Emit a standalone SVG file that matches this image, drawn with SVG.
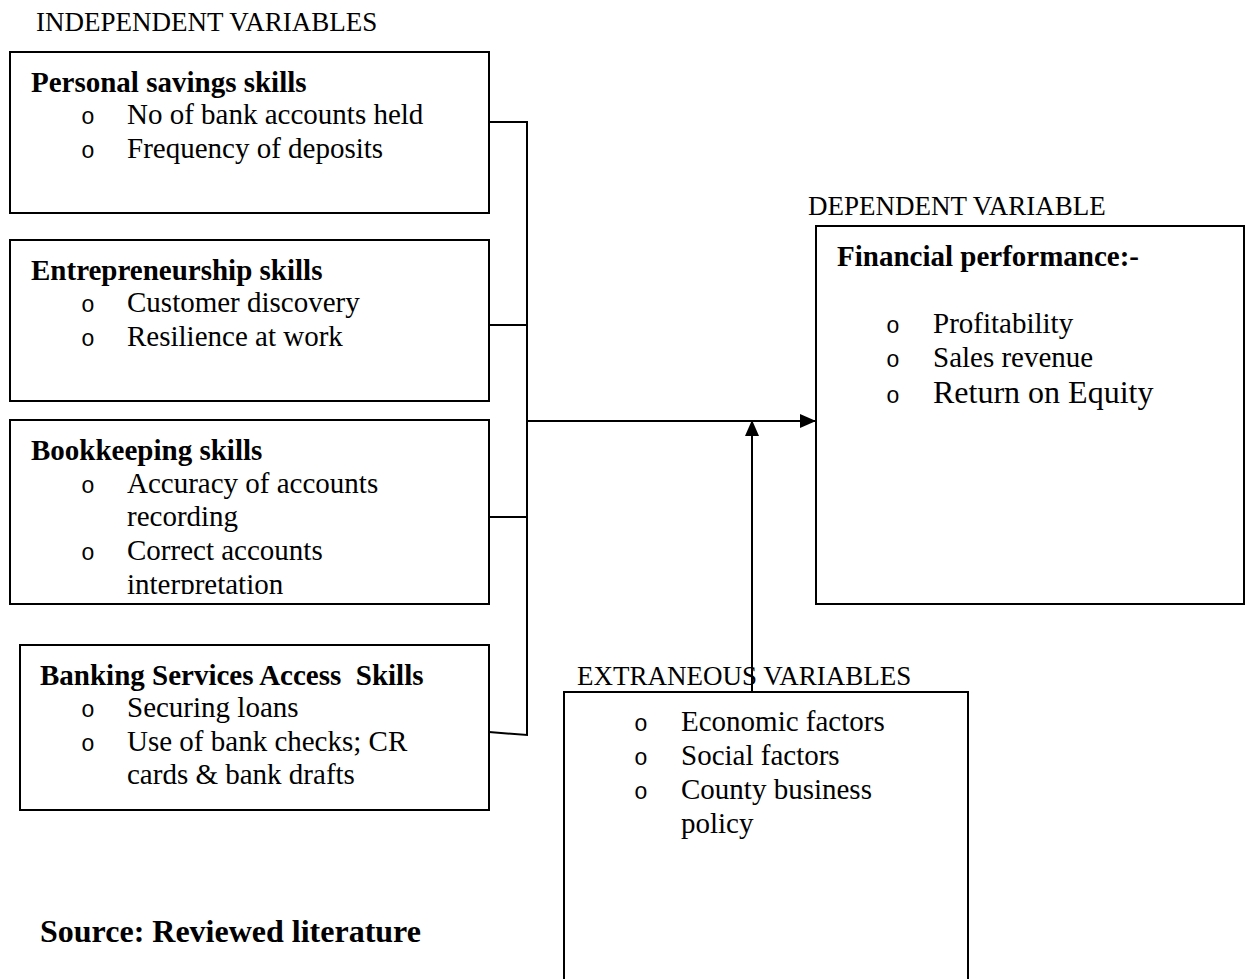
<svg xmlns="http://www.w3.org/2000/svg" width="1248" height="979" viewBox="0 0 1248 979">
<defs>
<style>
text{font-family:"Liberation Serif","Times New Roman",serif;fill:#000}
.lbl{font-size:27px}
.t{font-size:29px;font-weight:bold}
.i{font-size:29px}
.b{font-family:"Liberation Mono","Courier New",monospace;font-size:23px}
.box{fill:#fff;stroke:#000;stroke-width:2}
.c{fill:none;stroke:#000;stroke-width:2}
</style>
<marker id="ah" markerWidth="16" markerHeight="14" refX="15" refY="7" orient="auto" markerUnits="userSpaceOnUse">
<path d="M0,0 L16,7 L0,14 Z" fill="#000"/>
</marker>
<clipPath id="clip3"><rect x="10" y="420" width="479" height="174"/></clipPath>
</defs>
<rect width="1248" height="979" fill="#fff"/>
<text class="lbl" x="36" y="31">INDEPENDENT VARIABLES</text>
<text class="lbl" x="808" y="215">DEPENDENT VARIABLE</text>
<text class="lbl" x="577" y="685">EXTRANEOUS VARIABLES</text>

<g id="n-personal">
<rect class="box" x="10" y="52" width="479" height="161"/>
<text class="t" x="31" y="92">Personal savings skills</text>
<text class="b" x="81" y="124">o</text><text class="i" x="127" y="124">No of bank accounts held</text>
<text class="b" x="81" y="158">o</text><text class="i" x="127" y="158">Frequency of deposits</text>
</g>
<g id="n-entre">
<rect class="box" x="10" y="240" width="479" height="161"/>
<text class="t" x="31" y="280">Entrepreneurship skills</text>
<text class="b" x="81" y="312">o</text><text class="i" x="127" y="312">Customer discovery</text>
<text class="b" x="81" y="346">o</text><text class="i" x="127" y="346">Resilience at work</text>
</g>
<g id="n-book">
<rect class="box" x="10" y="420" width="479" height="184"/>
<text class="t" x="31" y="460">Bookkeeping skills</text>
<g clip-path="url(#clip3)">
<text class="b" x="81" y="493">o</text><text class="i" x="127" y="493">Accuracy of accounts</text>
<text class="i" x="127" y="526">recording</text>
<text class="b" x="81" y="560">o</text><text class="i" x="127" y="560">Correct accounts</text>
<text class="i" x="127" y="594">interpretation</text>
</g>
</g>
<g id="n-bank">
<rect class="box" x="20" y="645" width="469" height="165"/>
<text class="t" x="40" y="685" xml:space="preserve">Banking Services Access  Skills</text>
<text class="b" x="81" y="717">o</text><text class="i" x="127" y="717">Securing loans</text>
<text class="b" x="81" y="751">o</text><text class="i" x="127" y="751">Use of bank checks; CR</text>
<text class="i" x="127" y="784">cards &amp; bank drafts</text>
</g>
<g id="n-fin">
<rect class="box" x="816" y="226" width="428" height="378"/>
<text class="t" x="837" y="266">Financial performance:-</text>
<text class="b" x="886" y="333">o</text><text class="i" x="933" y="333">Profitability</text>
<text class="b" x="886" y="367">o</text><text class="i" x="933" y="367">Sales revenue</text>
<text class="b" x="886" y="403">o</text><text style="font-size:32px" x="933" y="403">Return on Equity</text>
</g>
<g id="n-extra">
<rect class="box" x="564" y="692" width="404" height="300"/>
<text class="b" x="634" y="731">o</text><text class="i" x="681" y="731">Economic factors</text>
<text class="b" x="634" y="765">o</text><text class="i" x="681" y="765">Social factors</text>
<text class="b" x="634" y="799">o</text><text class="i" x="681" y="799">County business</text>
<text class="i" x="681" y="833">policy</text>
</g>
<text class="t" style="font-size:32px" x="40" y="942">Source: Reviewed literature</text>

<g id="connectors">
<polyline class="c" points="489,122 527,122 527,735 489,732"/>
<line class="c" x1="489" y1="325" x2="527" y2="325"/>
<line class="c" x1="489" y1="517" x2="527" y2="517"/>
<line class="c" x1="527" y1="421" x2="815" y2="421" marker-end="url(#ah)"/>
<line class="c" x1="752" y1="692" x2="752" y2="421" marker-end="url(#ah)"/>
</g>
</svg>
